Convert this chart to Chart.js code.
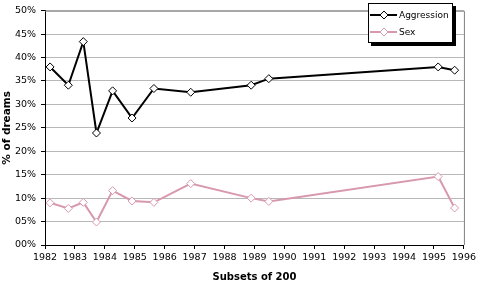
<!DOCTYPE html>
<html>
<head>
<meta charset="utf-8">
<script src="https://cdn.jsdelivr.net/npm/chart.js@4"></script>
<style>
  html, body { margin: 0; padding: 0; background: #fff; }
  #wrap { width: 479px; height: 283px; }
</style>
</head>
<body>
<div id="wrap"><canvas id="dreamChart"></canvas></div>
<script>
// subset positions along the time axis (years)
const subsetYears = [1982.17, 1982.78, 1983.28, 1983.72, 1984.26, 1984.91, 1985.64, 1986.87, 1988.89, 1989.48, 1995.14, 1995.69];
const aggression = [38.0, 34.1, 43.4, 23.9, 32.9, 27.1, 33.4, 32.6, 34.1, 35.5, 38.0, 37.3];
const sex = [9.0, 7.8, 9.1, 4.9, 11.6, 9.4, 9.1, 13.1, 10.0, 9.3, 14.6, 7.9];
const seriesNames = ['Aggression', 'Sex'];
const seriesColors = ['#000000', '#d898ae'];

const pts = vals => vals.map((v, i) => ({ x: subsetYears[i], y: v }));

// gray frame on top/right + boxed legend with drop shadow
const frameAndLegend = {
    id: 'frameAndLegend',
    afterDraw(chart) {
        const ctx = chart.ctx;
        const a = chart.chartArea;
        ctx.save();
        ctx.strokeStyle = '#808080';
        ctx.lineWidth = 1;
        ctx.beginPath();
        ctx.moveTo(a.left, a.top + 0.5);
        ctx.lineTo(a.right + 0.5, a.top + 0.5);
        ctx.lineTo(a.right + 0.5, a.bottom);
        ctx.stroke();

        // legend box
        const bx = 368, by = 3, bw = 85, bh = 40;
        ctx.fillStyle = '#000';
        ctx.fillRect(bx + 3, by + 3, bw, bh);
        ctx.fillStyle = '#fff';
        ctx.fillRect(bx, by, bw, bh);
        ctx.strokeStyle = '#000';
        ctx.strokeRect(bx + 0.5, by + 0.5, bw - 1, bh - 1);

        seriesNames.forEach((name, i) => {
            const y = by + 12 + i * 17;
            ctx.strokeStyle = seriesColors[i];
            ctx.lineWidth = 2;
            ctx.beginPath();
            ctx.moveTo(bx + 2, y);
            ctx.lineTo(bx + 29, y);
            ctx.stroke();
            ctx.lineWidth = 1;
            ctx.fillStyle = '#fff';
            ctx.beginPath();
            ctx.moveTo(bx + 16, y - 4);
            ctx.lineTo(bx + 20, y);
            ctx.lineTo(bx + 16, y + 4);
            ctx.lineTo(bx + 12, y);
            ctx.closePath();
            ctx.fill();
            ctx.stroke();
            ctx.fillStyle = '#000';
            ctx.font = '9px "DejaVu Sans"';
            ctx.textBaseline = 'middle';
            ctx.fillText(name, bx + 31, y + 1);
        });
        ctx.restore();
    }
};

new Chart(document.getElementById('dreamChart').getContext('2d'), {
    type: 'line',
    data: {
        datasets: seriesNames.map((name, i) => ({
            label: name,
            data: pts(i === 0 ? aggression : sex),
            borderColor: seriesColors[i],
            borderWidth: 2,
            pointStyle: 'rectRot',
            pointRadius: 4,
            pointBorderWidth: 1,
            pointBackgroundColor: '#fff',
            pointBorderColor: seriesColors[i],
            tension: 0
        }))
    },
    options: {
        responsive: true,
        maintainAspectRatio: false,
        animation: false,
        layout: { padding: { top: 7, right: 14, left: 0, bottom: 0 } },
        plugins: { legend: { display: false }, tooltip: { enabled: false } },
        scales: {
            x: {
                type: 'linear',
                min: 1982,
                max: 1996,
                afterFit: s => { s.height = 38; },
                ticks: {
                    stepSize: 1,
                    color: '#000',
                    font: { family: 'DejaVu Sans', size: 9.5 },
                    maxRotation: 0,
                    padding: 3,
                    callback: v => String(v)
                },
                grid: { drawOnChartArea: false, drawTicks: true, tickLength: 4, tickColor: '#000' },
                border: { color: '#000', width: 1 },
                title: {
                    display: true,
                    text: 'Subsets of 200',
                    color: '#000',
                    font: { family: 'DejaVu Sans', size: 10, weight: 'bold' },
                    padding: { top: 1, bottom: 0 }
                }
            },
            y: {
                min: 0,
                max: 50,
                afterFit: s => { s.width = 45; },
                ticks: {
                    stepSize: 5,
                    color: '#000',
                    font: { family: 'DejaVu Sans', size: 9.5 },
                    padding: 5,
                    callback: v => String(v).padStart(2, '0') + '%'
                },
                grid: { color: '#b8b8b8', lineWidth: 1, drawTicks: true, tickLength: 4, tickColor: '#000' },
                border: { color: '#000', width: 1 },
                title: {
                    display: true,
                    text: '% of dreams',
                    color: '#000',
                    font: { family: 'DejaVu Sans', size: 10.5, weight: 'bold' },
                    padding: { top: 1, bottom: 0 }
                }
            }
        }
    },
    plugins: [frameAndLegend]
});
</script>
</body>
</html>
